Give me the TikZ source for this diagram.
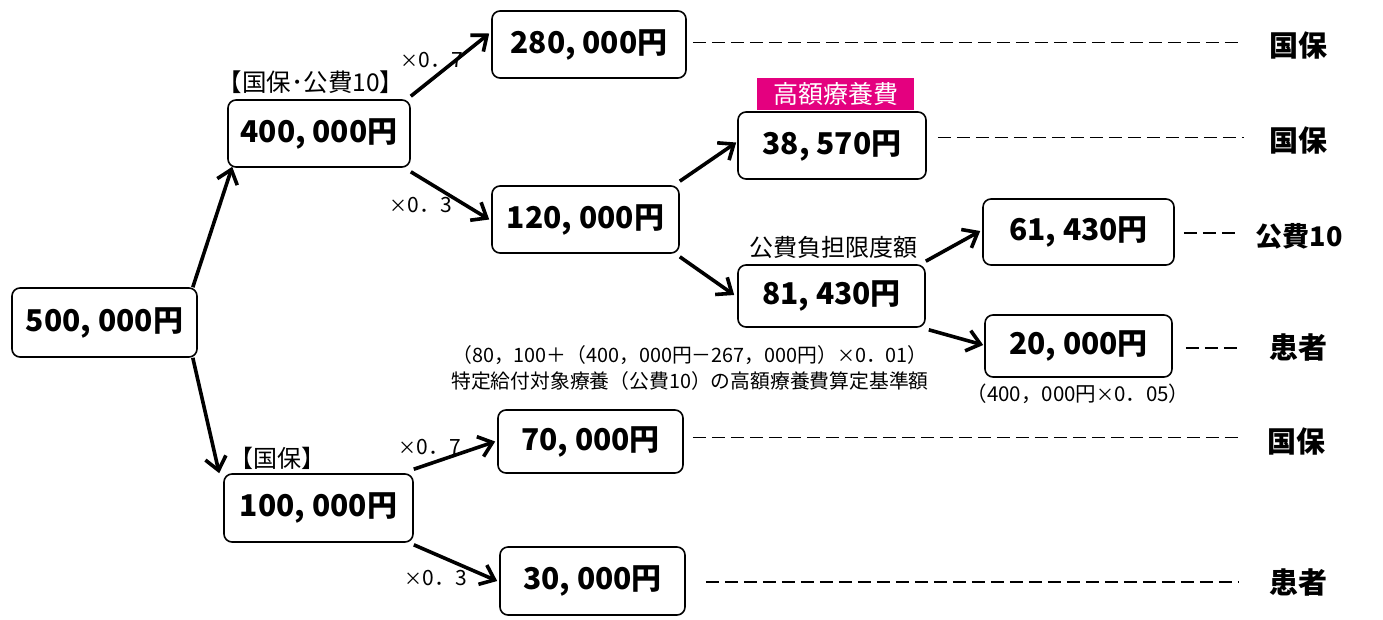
\documentclass[tikz,border=0pt]{standalone}
\usepackage{fontspec}
\setmainfont{Noto Sans CJK JP}
\usetikzlibrary{arrows.meta,calc}
\definecolor{hipink}{HTML}{E4007F}
\newcommand{\tms}{{\fontsize{18}{18}\selectfont ×}}
\begin{document}
\begin{tikzpicture}[x=1pt,y=-1pt,
  box/.style 2 args={draw,line width=1.6pt,rounded corners=8pt,minimum width=#1,minimum height=#2,inner sep=0pt,font=\fontsize{30}{32}\selectfont\bfseries},
  arr/.style={line width=3.6pt,-{Straight Barb[length=13pt,width=21pt]}},
  dsh/.style={line width=1.7pt,dash pattern=on 13pt off 6pt},
  who/.style={font=\fontsize{29}{31}\selectfont\bfseries,inner sep=0pt},
  lab/.style={font=\fontsize{21}{23}\selectfont,inner sep=0pt},
  note/.style={font=\fontsize{19.8}{22}\selectfont,inner sep=0pt}]
\useasboundingbox (0,0) rectangle (1383,619);
% boxes
\node[box={185}{69}] (n500) at (104.5,322.5) {500, 000円};
\node[box={182}{67}] (n400) at (319,133.5) {400, 000円};
\node[box={194}{67}] (n280) at (589,44.5) {280, 000円};
\node[box={187}{67}] (n120) at (585.5,219.5) {120, 000円};
\node[box={188}{67}] (n38) at (832,145.5) {38, 570円};
\node[box={187}{62}] (n81) at (831.5,296) {81, 430円};
\node[box={191}{66}] (n61) at (1078.5,232) {61, 430円};
\node[box={187}{62}] (n20) at (1078.5,346) {20, 000円};
\node[box={189}{68}] (n100) at (318.5,508) {100, 000円};
\node[box={185}{63}] (n70) at (590.5,441.5) {70, 000円};
\node[box={185}{68}] (n30) at (592.5,581) {30, 000円};
% pink tag
\node[fill=hipink,minimum width=157,minimum height=32,inner sep=0pt,text=white,font=\fontsize{25}{27}\selectfont] (tag) at (835.5,94) {高額療養費};
% right labels
\node[who] (w1) at (1298,46) {国保};
\node[who] (w2) at (1298,141) {国保};
\node[who,font=\fontsize{27}{29}\selectfont\bfseries] (w3) at (1299,236) {公費10};
\node[who] (w4) at (1298,347) {患者};
\node[who] (w5) at (1296,441) {国保};
\node[who] (w6) at (1298,582) {患者};
% labels
\node[lab,font=\fontsize{24.5}{26}\selectfont] (t1) at (311,82) {【国保･公費10】};
\node[lab,font=\fontsize{24}{26}\selectfont] (t2) at (277,458) {【国保】};
\node[lab] (m1) at (432,60) {\tms0．7};
\node[lab] (m2) at (421,205) {\tms0．3};
\node[lab] (m3) at (430,447) {\tms0．7};
\node[lab] (m4) at (436,578) {\tms0．3};
\node[font=\fontsize{24}{26}\selectfont,inner sep=0pt] (lim) at (833,247) {公費負担限度額};
\node[note] (f1) at (690,355) {（80，100＋（400，000円－267，000円）\tms0．01）};
\node[note] (f2) at (690,381) {特定給付対象療養（公費10）の高額療養費算定基準額};
\node[note,font=\fontsize{20.5}{22}\selectfont] (f3) at (1078,394) {（400，000円\tms0．05）};
% arrows
\draw[arr] ([xshift=-5pt]n500.north east) -- ([xshift=5pt,yshift=1pt]n400.south west);
\draw[arr] ([xshift=-5pt]n500.south east) -- ([xshift=-4pt]n100.north west);
\draw[arr] ([yshift=3pt]n400.north east) -- ([xshift=-2pt,yshift=11pt]n280.west);
\draw[arr] ([yshift=-4pt]n400.south east) -- ([xshift=-2pt]n120.west);
\draw[arr] ([yshift=4pt]n120.north east) -- ([xshift=-1pt,yshift=3pt]n38.west);
\draw[arr] ([yshift=-3pt]n120.south east) -- ([xshift=-3pt,yshift=1pt]n81.west);
\draw[arr] ([yshift=3pt]n81.north east) -- ([xshift=-2pt,yshift=1pt]n61.west);
\draw[arr] ([xshift=3pt,yshift=-2pt]n81.south east) -- ([xshift=-1pt,yshift=1pt]n20.west);
\draw[arr] ([yshift=4pt]n100.north east) -- ([xshift=-2pt]n70.west);
\draw[arr] ([yshift=-2pt]n100.south east) -- ([xshift=-2pt]n30.west);
% dashed leaders
\coordinate (d1) at ([xshift=6pt,yshift=2pt]n280.east);
\coordinate (d2) at ([xshift=11pt,yshift=8pt]n38.east);
\coordinate (d3) at ([xshift=9pt,yshift=-1pt]n61.east);
\coordinate (d4) at ([xshift=13pt,yshift=-2pt]n20.east);
\coordinate (d5) at ([xshift=9pt,yshift=4pt]n70.east);
\coordinate (d6) at ([xshift=20pt,yshift=-1pt]n30.east);
\draw[dsh] (d1) -- ($(d1 -| w1.west)+(-30,0)$);
\draw[dsh] (d2) -- ($(d2 -| w2.west)+(-25,0)$);
\draw[dsh] (d3) -- ($(d3 -| w3.west)+(-20,0)$);
\draw[dsh] (d4) -- ($(d4 -| w4.west)+(-30,0)$);
\draw[dsh] (d5) -- ($(d5 -| w5.west)+(-28,0)$);
\draw[dsh] (d6) -- ($(d6 -| w6.west)+(-30,0)$);
\end{tikzpicture}
\end{document}
